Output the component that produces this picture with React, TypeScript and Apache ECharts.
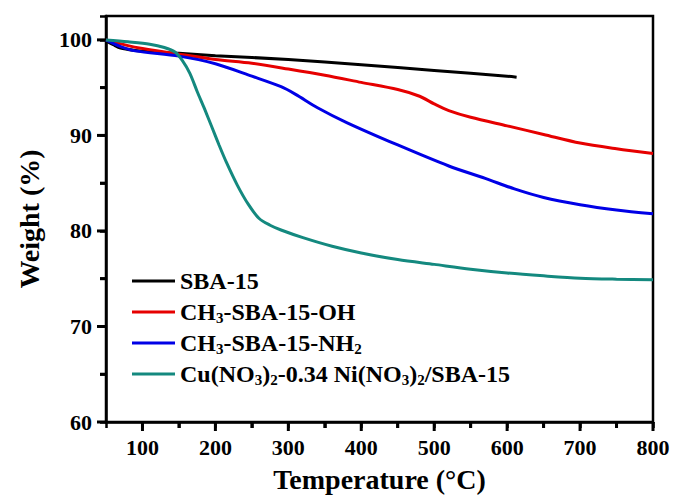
import React, { useEffect, useRef } from "react";
import * as echarts from "echarts";

const seriesNames = [
  "SBA-15",
  "CH3-SBA-15-OH",
  "CH3-SBA-15-NH2",
  "Cu(NO3)2-0.34 Ni(NO3)2/SBA-15",
];
const legendRich = [
  "SBA-15",
  "CH{s|3}-SBA-15-OH",
  "CH{s|3}-SBA-15-NH{s|2}",
  "Cu(NO{s|3}){s|2}-0.34 Ni(NO{s|3}){s|2}/SBA-15",
];
const colors = ["#000000", "#e60000", "#0000e6", "#14897f"];

const sbaT = [50, 60, 70, 90, 110, 150, 200, 300, 400, 500, 600, 613];
const sbaW = [99.9, 99.5, 99.15, 98.9, 98.75, 98.6, 98.35, 97.95, 97.4, 96.8, 96.2, 96.1];

const ohT = [50, 80, 100, 150, 200, 250, 300, 350, 400, 450, 480, 500, 520, 550, 600, 650, 700, 750, 800];
const ohW = [100, 99.4, 99.1, 98.5, 97.95, 97.55, 96.95, 96.3, 95.55, 94.8, 94.1, 93.3, 92.6, 91.9, 91.0, 90.1, 89.2, 88.6, 88.1];

const nhT = [50, 70, 90, 150, 200, 250, 290, 310, 340, 380, 450, 520, 570, 610, 650, 700, 750, 800];
const nhW = [100, 99.3, 98.85, 98.3, 97.5, 96.2, 95.1, 94.3, 92.9, 91.35, 89.0, 86.8, 85.5, 84.4, 83.5, 82.75, 82.2, 81.8];

const cuT = [50, 80, 110, 130, 145, 155, 165, 175, 185, 195, 205, 215, 230, 245, 260, 275, 290, 320, 360, 400, 450, 500, 550, 600, 650, 700, 750, 800];
const cuW = [100, 99.8, 99.55, 99.2, 98.7, 97.8, 96.5, 94.6, 92.8, 90.9, 89.0, 87.2, 84.8, 82.8, 81.3, 80.6, 80.1, 79.3, 78.4, 77.7, 77.0, 76.5, 76.0, 75.6, 75.3, 75.05, 74.95, 74.9];

const xMajor = [100, 200, 300, 400, 500, 600, 700, 800];
const xMinor = [150, 250, 350, 450, 550, 650, 750];
const yMajor = [60, 70, 80, 90, 100];
const yMinor = [65, 75, 85, 95];

const X_MIN = 50;
const X_MAX = 800;
const X_TICK_STEP = 50;
const Y_MIN = 60;
const Y_MAX = 102.5;
const Y_TICK_STEP = 5;

const FONT = "Liberation Serif";

function pairs(xs: number[], ys: number[]) {
  return xs.map((x, i) => [x, ys[i]]);
}

function xTickSeries(values: number[], len: number) {
  return {
    type: "custom",
    data: values.map((v) => [v, Y_MIN]),
    renderItem: (_p: any, api: any) => {
      const pt = api.coord([api.value(0), api.value(1)]);
      return { type: "rect", shape: { x: pt[0] - 1.5, y: pt[1], width: 3, height: len }, style: { fill: "#000" } };
    },
  };
}

function yTickSeries(values: number[], len: number) {
  return {
    type: "custom",
    data: values.map((v) => [X_MIN, v]),
    renderItem: (_p: any, api: any) => {
      const pt = api.coord([api.value(0), api.value(1)]);
      return { type: "rect", shape: { x: pt[0] - len, y: pt[1] - 1.5, width: len, height: 3 }, style: { fill: "#000" } };
    },
  };
}

export default function App() {
  const ref = useRef<HTMLDivElement>(null);
  useEffect(() => {
    if (!ref.current) return;
    const chart = echarts.init(ref.current, null, { renderer: "svg" });
    const data = [pairs(sbaT, sbaW), pairs(ohT, ohW), pairs(nhT, nhW), pairs(cuT, cuW)];
    const labelStyle = { fontFamily: FONT, fontWeight: "bold", fontSize: 22, color: "#000" };
    const nameStyle = { fontFamily: FONT, fontWeight: "bold", fontSize: 28, color: "#000" };
    const tickStyle = { show: true, inside: false, length: 6, lineStyle: { color: "#000", width: 2.5 } };
    chart.setOption({
      animation: false,
      backgroundColor: "#fff",
      grid: {
        left: 106,
        right: 21,
        top: 16,
        bottom: 79,
        show: true,
        borderColor: "#000",
        borderWidth: 2.5,
      },
      legend: {
        orient: "vertical",
        left: 127,
        top: 263,
        itemWidth: 43,
        itemHeight: 3,
        itemGap: 5,
        icon: "rect",
        data: seriesNames,
        formatter: (name: string) => legendRich[seriesNames.indexOf(name)],
        textStyle: {
          fontFamily: FONT,
          fontWeight: "bold",
          fontSize: 24,
          color: "#000",
          lineHeight: 26,
          rich: {
            s: {
              fontFamily: FONT,
              fontWeight: "bold",
              fontSize: 15,
              lineHeight: 4,
              verticalAlign: "bottom",
              color: "#000",
            },
          },
        },
      },
      xAxis: {
        type: "value",
        min: X_MIN,
        max: X_MAX,
        interval: X_TICK_STEP,
        name: "Temperature (°C)",
        nameLocation: "middle",
        nameGap: 43,
        nameTextStyle: nameStyle,
        axisLine: { show: true, lineStyle: { color: "#000", width: 2.5 } },
        splitLine: { show: false },
        axisTick: tickStyle,
        axisLabel: { show: true, margin: 14, customValues: xMajor, ...labelStyle },
      },
      yAxis: {
        type: "value",
        min: Y_MIN,
        max: Y_MAX,
        interval: Y_TICK_STEP,
        name: "Weight (%)",
        nameLocation: "middle",
        nameGap: 63,
        nameTextStyle: nameStyle,
        axisLine: { show: true, lineStyle: { color: "#000", width: 2.5 } },
        splitLine: { show: false },
        axisTick: tickStyle,
        axisLabel: { show: true, margin: 14, customValues: yMajor, ...labelStyle },
      },
      series: [
        ...seriesNames.map((name, i) => ({
          name,
          type: "line",
          data: data[i],
          smooth: 0.3,
          showSymbol: false,
          symbol: "none",
          lineStyle: { color: colors[i], width: 3 },
          itemStyle: { color: colors[i] },
          z: 3 + (i === 3 ? 1 : 0),
        })),
        xTickSeries(xMajor, 9),
        xTickSeries(xMinor, 6),
        yTickSeries(yMajor, 9),
        yTickSeries(yMinor, 6),
      ],
    });
    return () => chart.dispose();
  }, []);
  return <div ref={ref} style={{ width: 674, height: 501, position: "absolute", left: 0, top: 0 }} />;
}
